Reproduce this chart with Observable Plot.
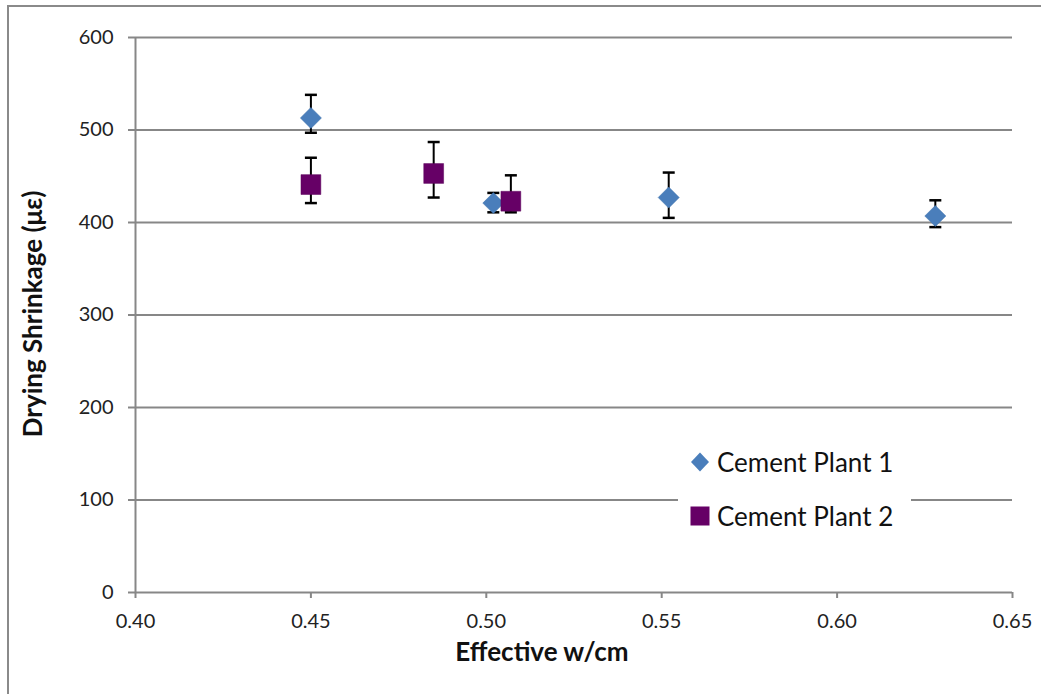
<!DOCTYPE html>
<html>
<head>
<meta charset="utf-8">
<script src="https://cdn.jsdelivr.net/npm/d3@7"></script>
<script src="https://cdn.jsdelivr.net/npm/@observablehq/plot@0.6"></script>
<style>
  html, body { margin: 0; padding: 0; background: #fff; }
  #wrap { position: relative; width: 1041px; height: 694px; overflow: hidden; font-family: Lato, "Open Sans", sans-serif; }
  #frame { position: absolute; left: 7px; top: 5px; width: 1100px; height: 800px; border-left: 2px solid #8a8a8a; border-top: 2px solid #8a8a8a; pointer-events: none; }
  #legend { position: absolute; left: 678px; top: 440px; width: 233px; height: 100px; background: #fff; }
  .item { position: absolute; left: 0; height: 30px; display: flex; align-items: center; font-size: 26px; color: #111; white-space: nowrap; }
  .item svg { margin-left: 12px; margin-right: 7px; }
</style>
</head>
<body>
<div id="wrap">
  <div id="chart"></div>
  <div id="frame"></div>
  <div id="legend"></div>
</div>
<script>
// Data
const seriesNames = ["Cement Plant 1", "Cement Plant 2"];
const seriesColors = ["#4a7ebb", "#660066"];

const p1X  = [0.450, 0.502, 0.552, 0.628];
const p1Y  = [513, 421, 427, 407];
const p1Lo = [497, 411, 405, 395];
const p1Hi = [538, 432, 454, 424];

const p2X  = [0.450, 0.485, 0.507];
const p2Y  = [441, 453, 423];
const p2Lo = [421, 427, 411];
const p2Hi = [470, 487, 451];

const xTicks = [0.40, 0.45, 0.50, 0.55, 0.60, 0.65];
const yTicks = [0, 100, 200, 300, 400, 500, 600];

const p1 = p1X.map((x, i) => ({x, y: p1Y[i], lo: p1Lo[i], hi: p1Hi[i]}));
const p2 = p2X.map((x, i) => ({x, y: p2Y[i], lo: p2Lo[i], hi: p2Hi[i]}));

const cap = { draw(ctx) { ctx.moveTo(-6, 0); ctx.lineTo(6, 0); } };
const gray = "#878787";

function errorMarks(data) {
  return [
    Plot.ruleX(data, {x: "x", y1: "lo", y2: "hi", stroke: "#000", strokeWidth: 2}),
    Plot.dot(data, {x: "x", y: "lo", symbol: cap, fill: "none", stroke: "#000", strokeWidth: 2.5}),
    Plot.dot(data, {x: "x", y: "hi", symbol: cap, fill: "none", stroke: "#000", strokeWidth: 2.5})
  ];
}

const chart = Plot.plot({
  width: 1041,
  height: 694,
  marginLeft: 135,
  marginRight: 29,
  marginTop: 37,
  marginBottom: 102,
  style: {fontFamily: "Lato, 'Open Sans', sans-serif", fontSize: "20px", color: "#222", background: "transparent"},
  x: {domain: [0.40, 0.65]},
  y: {domain: [0, 600]},
  marks: [
    Plot.ruleY(yTicks.filter(d => d > 0), {stroke: gray, strokeWidth: 1.8}),
    Plot.ruleY([0], {stroke: gray, strokeWidth: 2}),
    Plot.ruleX([0.40], {stroke: gray, strokeWidth: 2}),
    Plot.axisY({ticks: yTicks, tickSize: 7, tickPadding: 15, stroke: gray, strokeWidth: 2, tickFormat: d3.format("d"), label: null, fontSize: 20}),
    Plot.axisX({ticks: xTicks, tickSize: 6, tickPadding: 15, stroke: gray, strokeWidth: 2, tickFormat: d3.format(".2f"), label: null, fontSize: 20}),
    Plot.text(["Drying Shrinkage (με)"], {frameAnchor: "left", textAnchor: "middle", dx: -102, dy: -1, rotate: -90, fontWeight: "bold", fontSize: 26, fill: "#111"}),
    Plot.text(["Effective w/cm"], {frameAnchor: "bottom", textAnchor: "middle", dx: -32, dy: 68, fontWeight: "bold", fontSize: 26, fill: "#111"}),
    ...errorMarks(p1),
    Plot.dot(p1, {x: "x", y: "y", symbol: "diamond2", r: 9.5, fill: seriesColors[0], stroke: "#3f72ad", strokeWidth: 0.5}),
    ...errorMarks(p2),
    Plot.dot(p2, {x: "x", y: "y", symbol: "square", r: 11.2, fill: seriesColors[1], stroke: "#5a005a", strokeWidth: 0.5})
  ]
});
document.getElementById("chart").appendChild(chart);

// Legend
const legend = document.getElementById("legend");
const markerSvgs = [
  `<svg width="20" height="20" viewBox="-10 -10 20 20"><path d="M0,-9.5L9,0L0,9.5L-9,0Z" fill="${seriesColors[0]}"/></svg>`,
  `<svg width="20" height="20" viewBox="-10 -10 20 20"><rect x="-9.5" y="-9.5" width="19" height="19" fill="${seriesColors[1]}"/></svg>`
];
const tops = [7, 61];
seriesNames.forEach((name, i) => {
  const div = document.createElement("div");
  div.className = "item";
  div.style.top = tops[i] + "px";
  div.innerHTML = markerSvgs[i] + `<span>${name}</span>`;
  legend.appendChild(div);
});
</script>
</body>
</html>
